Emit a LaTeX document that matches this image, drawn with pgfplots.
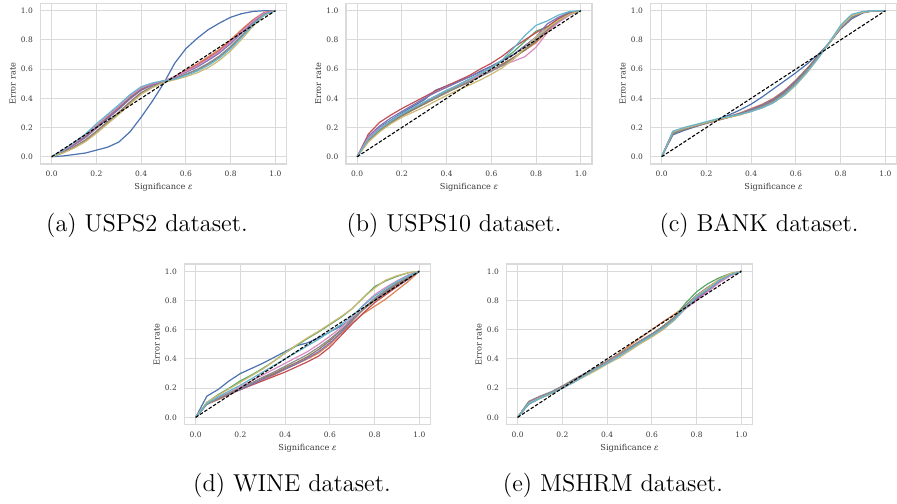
\documentclass[border=0pt]{standalone}
\usepackage{fontspec}
\usepackage{pgfplots}
\usepackage{pgfplotstable}
\pgfplotsset{compat=1.18}
\newfontfamily\dvs{DejaVu Serif}
\definecolor{s0}{HTML}{4C72B0}
\definecolor{s1}{HTML}{DD8452}
\definecolor{s2}{HTML}{55A868}
\definecolor{s3}{HTML}{C44E52}
\definecolor{s4}{HTML}{8172B3}
\definecolor{s5}{HTML}{937860}
\definecolor{s6}{HTML}{DA8BC3}
\definecolor{s7}{HTML}{8C8C8C}
\definecolor{s8}{HTML}{CCB974}
\definecolor{s9}{HTML}{64B5CD}
\definecolor{gridc}{HTML}{DADADA}
\definecolor{txt}{HTML}{3A3A3A}

\pgfplotstableread{
x c0 c1 c2 c3 c4 c5 c6 c7 c8 c9
0 0 0 0 0 0 0 0 0 0 0
0.05 0.005 .038 .040 .037 .035 .029 .041 .026 .025 .044
0.10 0.015 .086 .089 .083 .080 .068 .092 .062 .059 .098
0.15 0.025 .138 .142 .134 .130 .114 .146 .106 .102 .154
0.20 0.045 .205 .210 .200 .195 .175 .215 .165 .160 .225
0.25 0.065 .270 .275 .265 .260 .240 .280 .230 .225 .290
0.30 0.10 .335 .340 .330 .325 .305 .345 .295 .290 .355
0.35 0.17 .405 .410 .400 .395 .375 .415 .365 .360 .425
0.40 0.27 .463 .467 .459 .455 .439 .471 .431 .427 .479
0.45 0.38 .495 .498 .493 .490 .480 .500 .475 .473 .505
0.50 0.50 .517 .518 .516 .515 .511 .519 .509 .508 .521
0.55 0.64 .549 .543 .546 .542 .534 .545 .536 .527 .531
0.60 0.74 .593 .581 .587 .578 .563 .584 .566 .548 .557
0.65 0.81 .634 .618 .626 .614 .594 .622 .598 .574 .586
0.70 0.87 .685 .665 .675 .660 .635 .670 .640 .610 .625
0.75 0.915 .735 .715 .725 .710 .685 .720 .690 .660 .675
0.80 0.955 .800 .780 .790 .775 .750 .785 .755 .725 .740
0.85 0.98 .872 .854 .863 .850 .827 .859 .832 .805 .818
0.90 0.995 .938 .926 .932 .923 .908 .929 .911 .893 .902
0.95 1.0 .989 .983 .986 .982 .974 .985 .976 .967 .971
1.00 1.0 1 1 1 1 1 1 1 1 1
}\tA

\pgfplotstableread{
x c0 c1 c2 c3 c4 c5 c6 c7 c8 c9
0 0 0 0 0 0 0 0 0 0 0
0.05 .13 .12 .11 .155 .14 .115 .13 .12 .10 .12
0.10 .20 .18 .175 .235 .21 .18 .195 .185 .17 .19
0.15 .25 .235 .23 .285 .265 .235 .245 .24 .225 .245
0.20 .30 .285 .28 .33 .31 .28 .29 .285 .27 .295
0.25 .345 .325 .325 .37 .355 .32 .335 .33 .305 .335
0.30 .39 .365 .37 .41 .40 .36 .375 .37 .34 .375
0.35 .455 .40 .41 .45 .44 .40 .415 .405 .38 .415
0.40 .485 .44 .45 .485 .475 .44 .455 .44 .42 .455
0.45 .515 .48 .49 .52 .51 .475 .49 .48 .455 .49
0.50 .545 .515 .53 .555 .545 .51 .525 .515 .49 .53
0.55 .585 .55 .565 .60 .58 .55 .56 .55 .525 .57
0.60 .62 .59 .61 .64 .62 .59 .59 .585 .565 .61
0.65 .66 .635 .66 .69 .66 .635 .625 .625 .61 .665
0.70 .70 .68 .72 .75 .70 .68 .655 .67 .67 .745
0.75 .76 .73 .79 .80 .76 .73 .685 .74 .745 .83
0.80 .815 .78 .86 .85 .82 .79 .75 .80 .82 .90
0.85 .885 .86 .89 .89 .91 .87 .85 .87 .88 .93
0.90 .945 .93 .945 .945 .955 .935 .92 .93 .935 .97
0.95 .985 .975 .985 .985 .99 .98 .97 .975 .975 .995
1.00 1 1 1 1 1 1 1 1 1 1
}\tB

\pgfplotstableread{
x c0 c1 c2 c3 c4 c5 c6 c7 c8 c9
0 0 0 0 0 0 0 0 0 0 0
0.05 .15 .16 .17 .165 .165 .16 .17 .165 .17 .175
0.10 .18 .19 .195 .19 .19 .185 .195 .19 .195 .20
0.15 .205 .21 .215 .21 .21 .21 .215 .21 .215 .22
0.20 .23 .23 .235 .23 .23 .23 .235 .23 .235 .24
0.25 .255 .25 .255 .25 .25 .25 .255 .25 .255 .26
0.30 .285 .275 .275 .27 .275 .27 .27 .27 .27 .275
0.35 .32 .30 .295 .29 .295 .29 .29 .29 .285 .29
0.40 .36 .33 .32 .32 .325 .315 .31 .315 .31 .31
0.45 .41 .36 .35 .35 .355 .345 .34 .345 .335 .335
0.50 .465 .40 .39 .39 .395 .385 .375 .38 .37 .37
0.55 .52 .455 .445 .445 .45 .44 .43 .435 .42 .425
0.60 .575 .525 .515 .515 .52 .51 .50 .505 .49 .495
0.65 .635 .605 .60 .60 .60 .595 .585 .59 .575 .58
0.70 .70 .69 .69 .685 .69 .685 .68 .68 .675 .675
0.75 .78 .78 .785 .78 .78 .78 .78 .78 .78 .785
0.80 .875 .88 .89 .885 .88 .885 .89 .885 .89 .90
0.85 .945 .955 .96 .96 .955 .96 .965 .96 .965 .975
0.90 .985 .99 .99 .99 .99 .99 .99 .99 .99 .995
0.95 1 1 1 1 1 1 1 1 1 1
1.00 1 1 1 1 1 1 1 1 1 1
}\tC

\pgfplotstableread{
x c0 c1 c2 c3 c4 c5 c6 c7 c8 c9
0 0 0 0 0 0 0 0 0 0 0
0.05 .145 .09 .10 .09 .09 .09 .095 .09 .105 .095
0.10 .19 .12 .155 .13 .125 .13 .135 .13 .15 .14
0.15 .25 .155 .20 .16 .16 .165 .17 .165 .195 .18
0.20 .30 .19 .25 .19 .19 .20 .21 .20 .24 .22
0.25 .335 .225 .29 .22 .225 .235 .25 .235 .285 .265
0.30 .37 .26 .335 .25 .26 .27 .29 .275 .33 .31
0.35 .41 .29 .385 .28 .295 .30 .33 .31 .385 .355
0.40 .45 .33 .44 .31 .33 .34 .37 .35 .44 .40
0.45 .49 .365 .49 .345 .365 .375 .41 .39 .495 .445
0.50 .51 .40 .54 .38 .405 .415 .45 .43 .545 .49
0.55 .545 .44 .585 .42 .45 .465 .50 .48 .59 .535
0.60 .585 .50 .635 .48 .51 .525 .555 .535 .64 .585
0.65 .625 .575 .685 .56 .58 .595 .615 .60 .69 .635
0.70 .675 .645 .745 .64 .66 .665 .685 .67 .745 .695
0.75 .74 .71 .82 .715 .74 .74 .77 .745 .82 .765
0.80 .80 .76 .895 .785 .81 .80 .84 .815 .885 .83
0.85 .85 .81 .935 .84 .865 .855 .89 .87 .94 .88
0.90 .895 .87 .965 .895 .915 .91 .935 .92 .97 .93
0.95 .945 .93 .99 .95 .955 .96 .975 .96 .99 .97
1.00 1 1 1 1 1 1 1 1 1 1
}\tD

\pgfplotstableread{
x c0 c1 c2 c3 c4 c5 c6 c7 c8 c9
0 0 0 0 0 0 0 0 0 0 0
0.05 .09 .10 .105 .10 .10 .105 .10 .11 .095 .095
0.10 .13 .135 .14 .135 .135 .14 .135 .145 .13 .13
0.15 .165 .17 .17 .165 .165 .17 .165 .175 .16 .165
0.20 .205 .21 .205 .205 .20 .21 .205 .215 .20 .20
0.25 .245 .25 .245 .245 .24 .25 .245 .26 .24 .24
0.30 .29 .295 .29 .29 .285 .295 .285 .30 .28 .285
0.35 .335 .34 .33 .335 .33 .335 .33 .34 .32 .33
0.40 .38 .385 .375 .38 .375 .38 .375 .385 .365 .37
0.45 .425 .435 .42 .425 .42 .425 .42 .43 .405 .415
0.50 .475 .49 .47 .475 .47 .475 .465 .475 .455 .465
0.55 .525 .545 .52 .52 .515 .525 .51 .525 .505 .515
0.60 .57 .60 .565 .565 .56 .57 .555 .57 .55 .56
0.65 .62 .655 .615 .615 .61 .625 .605 .62 .60 .61
0.70 .68 .705 .685 .675 .67 .685 .665 .68 .665 .67
0.75 .755 .76 .78 .745 .75 .765 .745 .76 .75 .75
0.80 .825 .82 .86 .805 .815 .835 .80 .835 .83 .825
0.85 .875 .875 .915 .865 .87 .89 .86 .89 .885 .875
0.90 .93 .93 .955 .925 .93 .94 .92 .94 .945 .935
0.95 .97 .975 .985 .97 .975 .98 .97 .98 .985 .975
1.00 1 1 1 1 1 1 1 1 1 1
}\tE

\pgfplotsset{
  sub/.style={
    scale only axis, width=123pt, height=80.3pt,
    xmin=-0.05, xmax=1.05, ymin=-0.05, ymax=1.05,
    xtick={0,0.2,0.4,0.6,0.8,1.0}, ytick={0,0.2,0.4,0.6,0.8,1.0},
    xticklabels={0.0,0.2,0.4,0.6,0.8,1.0},
    yticklabels={0.0,0.2,0.4,0.6,0.8,1.0},
    grid=major, major grid style={gridc, line width=0.55pt},
    axis line style={gridc, line width=0.8pt},
    major tick length=0pt, tick style={draw=none},
    ticklabel style={font=\dvs\fontsize{3.75}{4.5}\selectfont, text=txt, inner sep=0pt},
    xticklabel style={anchor=north, yshift=-3.4pt},
    yticklabel style={anchor=east, xshift=-3.6pt},
    xlabel={Significance \textit{ε}}, ylabel={Error rate},
    label style={font=\dvs\fontsize{4.1}{5}\selectfont, text=txt, inner sep=0pt},
    xlabel style={at={(axis description cs:0.5,-0.1615)}, anchor=base},
    ylabel style={at={(axis description cs:-0.1012,0.5)}, anchor=base, rotate=0},
    every axis plot/.append style={line width=0.6pt, mark=none},
  }
}
\newcommand{\allseries}[1]{%
  \addplot[s0] table[x=x,y=c0]{#1};
  \addplot[s1] table[x=x,y=c1]{#1};
  \addplot[s2] table[x=x,y=c2]{#1};
  \addplot[s3] table[x=x,y=c3]{#1};
  \addplot[s4] table[x=x,y=c4]{#1};
  \addplot[s5] table[x=x,y=c5]{#1};
  \addplot[s6] table[x=x,y=c6]{#1};
  \addplot[s7] table[x=x,y=c7]{#1};
  \addplot[s8] table[x=x,y=c8]{#1};
  \addplot[s9] table[x=x,y=c9]{#1};
  \addplot[black, line width=0.55pt, dash pattern=on 1.7pt off 0.9pt] coordinates {(0,0) (1,1)};
}

\begin{document}
\begin{tikzpicture}
\path[use as bounding box] (0,0) rectangle (448.5pt,-251.5pt);
\begin{axis}[sub, at={(20.25pt,-82pt)}, anchor=south west]
\allseries{\tA}
\end{axis}
\begin{axis}[sub, at={(173pt,-82pt)}, anchor=south west]
\allseries{\tB}
\end{axis}
\begin{axis}[sub, at={(325.25pt,-82pt)}, anchor=south west]
\allseries{\tC}
\end{axis}
\begin{axis}[sub, at={(92.25pt,-212.3pt)}, anchor=south west]
\allseries{\tD}
\end{axis}
\begin{axis}[sub, at={(253.25pt,-212.3pt)}, anchor=south west]
\allseries{\tE}
\end{axis}
\begin{scope}[every node/.style={font=\fontsize{12.2}{14}\selectfont, inner sep=0pt, anchor=base}]
\node at (73.5pt,-115.5pt) {(a) USPS2 dataset.};
\node at (227pt,-115.5pt) {(b) USPS10 dataset.};
\node at (379.5pt,-115.5pt) {(c) BANK dataset.};
\node at (146pt,-245.5pt) {(d) WINE dataset.};
\node at (306.5pt,-245.5pt) {(e) MSHRM dataset.};
\end{scope}
\end{tikzpicture}
\end{document}
